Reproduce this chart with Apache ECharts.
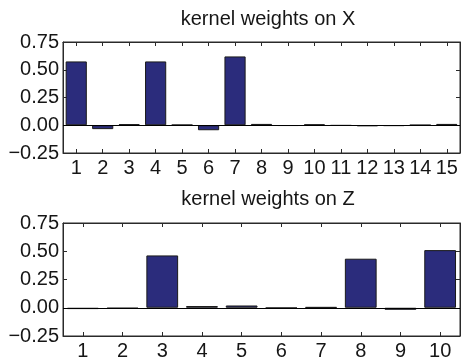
<!DOCTYPE html>
<html>
<head>
<meta charset="utf-8">
<script src="https://cdn.jsdelivr.net/npm/echarts@6/dist/echarts.min.js"></script>
<style>html,body{margin:0;padding:0;background:#fff}#c{width:463px;height:361px}</style>
</head>
<body>
<div id="c"></div>
<script>
// Data
const titleX = 'kernel weights on X';
const titleZ = 'kernel weights on Z';
const catsX = ['1','2','3','4','5','6','7','8','9','10','11','12','13','14','15'];
const weightsX = [0.575, -0.035, 0.01, 0.575, 0.004, -0.045, 0.62, 0.012, -0.005, 0.008, -0.003, -0.008, -0.006, 0.002, 0.012];
const catsZ = ['1','2','3','4','5','6','7','8','9','10'];
const weightsZ = [-0.012, -0.008, 0.463, 0.015, 0.02, -0.004, 0.006, 0.434, -0.018, 0.51];
const yTicks = [-0.25, 0, 0.25, 0.5, 0.75];

const FONT = 'Liberation Sans';
const TXT = '#161616';
const AX = '#2a2a2a';
const BAR = '#2b2c7c';

const fmt = v => (v < 0 ? '\u2212' : '') + Math.abs(v).toFixed(2);

const grids = [
  {left: 63, right: 3, top: 42, height: 111, show: true, borderColor: AX, borderWidth: 1, backgroundColor: '#fff', containLabel: false},
  {left: 63, right: 3, top: 223, height: 113, show: true, borderColor: AX, borderWidth: 1, backgroundColor: '#fff', containLabel: false}
];

function yAxes(gi) {
  const base = {
    type: 'value', gridIndex: gi, min: yTicks[0], max: yTicks[yTicks.length - 1], interval: 0.25,
    splitLine: {show: false},
    axisLine: {show: true, onZero: false, lineStyle: {color: AX, width: 1}},
    axisTick: {show: true, inside: true, length: 4, lineStyle: {color: AX}}
  };
  return [
    Object.assign({}, base, {position: 'left',
      axisLabel: {show: true, formatter: fmt, margin: 4, fontFamily: FONT, fontSize: 20, color: TXT}}),
    Object.assign({}, base, {position: 'right', axisLabel: {show: false}})
  ];
}
function xAxes(gi, cats) {
  const base = {
    type: 'category', gridIndex: gi, data: cats, boundaryGap: true,
    splitLine: {show: false},
    axisLine: {show: true, onZero: false, lineStyle: {color: AX, width: 1}},
    axisTick: {show: true, inside: true, length: 4, alignWithLabel: true, lineStyle: {color: AX}}
  };
  return [
    Object.assign({}, base, {position: 'bottom',
      axisLabel: {show: true, margin: 5, interval: 0, fontFamily: FONT, fontSize: 20, color: TXT}}),
    Object.assign({}, base, {position: 'top', axisLabel: {show: false}})
  ];
}
function barSeries(xi, yi, data) {
  return {
    type: 'bar', xAxisIndex: xi, yAxisIndex: yi, data: data, barCategoryGap: '20%',
    itemStyle: {color: BAR, borderColor: '#1a1a1a', borderWidth: 1},
    silent: true, animation: false,
    markLine: {silent: true, symbol: 'none', animation: false,
      label: {show: false},
      lineStyle: {color: '#000', width: 1, type: 'solid'},
      data: [{yAxis: 0}]}
  };
}

const chart = echarts.init(document.getElementById('c'), null, {renderer: 'canvas'});
chart.setOption({
  animation: false,
  backgroundColor: '#fff',
  title: [
    {text: titleX, left: 263, top: 4, textAlign: 'center',
     textStyle: {fontFamily: FONT, fontSize: 20, fontWeight: 'normal', color: TXT}},
    {text: titleZ, left: 263, top: 184, textAlign: 'center',
     textStyle: {fontFamily: FONT, fontSize: 20, fontWeight: 'normal', color: TXT}}
  ],
  grid: grids,
  xAxis: [...xAxes(0, catsX), ...xAxes(1, catsZ)],
  yAxis: [...yAxes(0), ...yAxes(1)],
  series: [barSeries(0, 0, weightsX), barSeries(2, 2, weightsZ)]
});
</script>
</body>
</html>
